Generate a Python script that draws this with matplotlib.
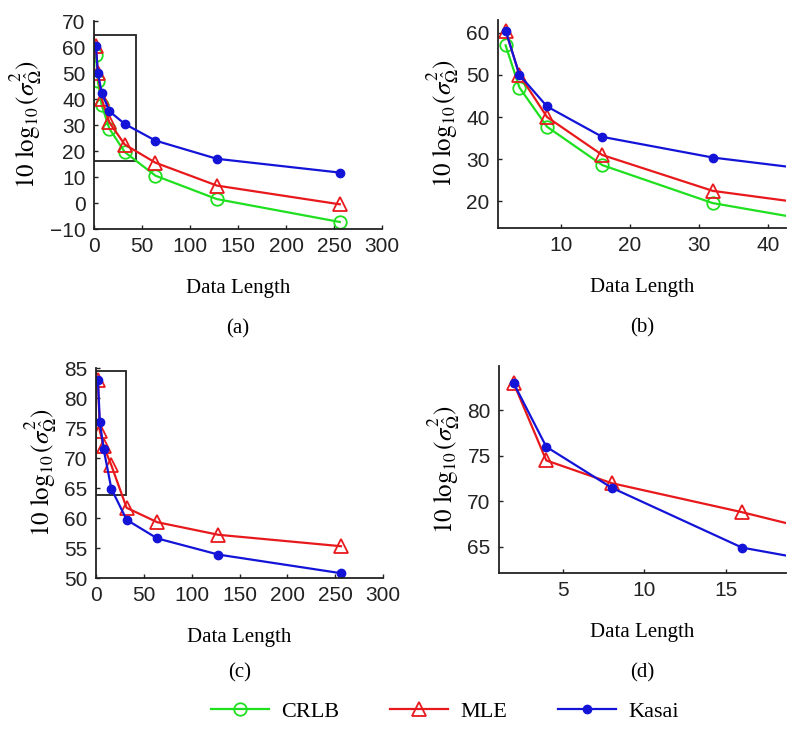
import numpy as np
import matplotlib.pyplot as plt
from matplotlib.patches import Rectangle
from matplotlib.lines import Line2D

plt.rcParams['mathtext.fontset'] = 'stix'
plt.rcParams['font.family'] = 'Liberation Sans'

data_length = [2, 4, 8, 16, 32, 64, 128, 256]

# top row (a, b)
crlb_top = [57.0, 47.0, 37.7, 28.6, 19.6, 10.5, 1.5, -7.3]
mle_top = [60.5, 50.0, 40.0, 31.0, 22.5, 15.5, 6.7, -0.5]
kasai_top = [60.5, 50.0, 42.5, 35.3, 30.4, 24.0, 17.0, 11.7]

# bottom row (c, d)
mle_bot = [83.0, 74.5, 72.0, 68.8, 61.7, 59.3, 57.2, 55.3]
kasai_bot = [83.0, 76.0, 71.5, 64.9, 59.7, 56.6, 53.9, 50.8]

green = '#1fe01f'
red = '#e8191c'
blue = '#1414d8'

W, H = 800, 736
fig = plt.figure(figsize=(W / 100, H / 100), dpi=100)


def make_ax(l, r, t, b):
    return fig.add_axes([l / W, 1 - b / H, (r - l) / W, (b - t) / H])


def style(ax):
    for s in ['top', 'right']:
        ax.spines[s].set_visible(False)
    for s in ['left', 'bottom']:
        ax.spines[s].set_linewidth(1.3)
        ax.spines[s].set_color('#222222')
    ax.tick_params(direction='in', length=3, width=1, labelsize=15, pad=6, colors='#222222')
    ax.set_xlabel('Data Length', family='Liberation Serif', fontsize=15, labelpad=16)
    ax.set_ylabel(r'$10\ \log_{10}(\sigma^2_{\hat{\Omega}})$', fontsize=18, labelpad=4)


def plot_series(ax, crlb, mle, kasai):
    if crlb is not None:
        ax.plot(data_length, crlb, color=green, lw=1.6, marker='o', ms=9, mfc='none', mew=1.3)
    ax.plot(data_length, mle, color=red, lw=1.6, marker='^', ms=10, mfc='none', mew=1.3)
    ax.plot(data_length, kasai, color=blue, lw=1.6, marker='o', ms=6)


def caption(ax, s, y):
    ax.text(0.5, y, s, transform=ax.transAxes, ha='center', va='center',
            family='Liberation Serif', fontsize=15)


# (a)
ax = make_ax(94, 382, 21, 229)
plot_series(ax, crlb_top, mle_top, kasai_top)
ax.set_xlim(0, 300)
ax.set_ylim(-10, 70)
ax.set_xticks(np.arange(0, 301, 50))
ax.set_yticks(np.arange(-10, 71, 10))
ax.add_patch(Rectangle((0, 16), 43.5, 48.5, fill=False, ec='#222222', lw=1.3))
style(ax)
caption(ax, '(a)', -0.48)

# (b)
ax = make_ax(498, 786, 20, 228)
plot_series(ax, crlb_top, mle_top, kasai_top)
ax.set_xlim(0.9, 42.6)
ax.set_ylim(13.7, 63)
ax.set_xticks([10, 20, 30, 40])
ax.set_yticks([20, 30, 40, 50, 60])
style(ax)
caption(ax, '(b)', -0.48)

# (c)
ax = make_ax(96, 383, 368, 578)
plot_series(ax, None, mle_bot, kasai_bot)
ax.set_xlim(0, 300)
ax.set_ylim(50, 85)
ax.set_xticks(np.arange(0, 301, 50))
ax.set_yticks(np.arange(50, 86, 5))
ax.add_patch(Rectangle((0, 63.8), 31, 20.7, fill=False, ec='#222222', lw=1.3))
style(ax)
caption(ax, '(c)', -0.45)

# (d)
ax = make_ax(499, 786, 366, 573)
plot_series(ax, None, mle_bot, kasai_bot)
ax.set_xlim(1.1, 18.7)
ax.set_ylim(62.1, 84.9)
ax.set_xticks([5, 10, 15])
ax.set_yticks([65, 70, 75, 80])
style(ax)
caption(ax, '(d)', -0.48)

handles = [
    Line2D([], [], color=green, lw=1.6, marker='o', ms=9, mfc='none', mew=1.3),
    Line2D([], [], color=red, lw=1.6, marker='^', ms=10, mfc='none', mew=1.3),
    Line2D([], [], color=blue, lw=1.6, marker='o', ms=6),
]
fig.legend(handles, ['CRLB', 'MLE', 'Kasai'], loc='center', bbox_to_anchor=(445 / W, 1 - 712 / H),
           ncol=3, frameon=False, handlelength=2.6, columnspacing=2.3, handletextpad=0.55,
           prop={'family': 'Liberation Serif', 'size': 16})

fig.savefig('out.png', dpi=100)
